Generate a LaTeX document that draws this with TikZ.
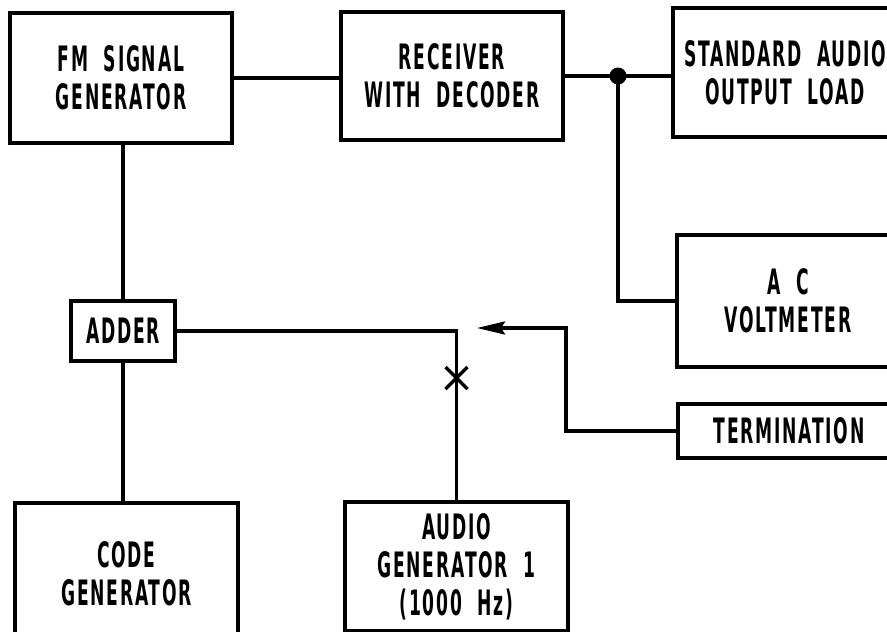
\documentclass[tikz,border=0pt]{standalone}
\usepackage{fontspec}
\newfontfamily\lab[FakeStretch=0.49,LetterSpace=5,WordSpace=2]{DejaVu Sans}
\usetikzlibrary{arrows.meta}
\begin{document}
\begin{tikzpicture}[x=1pt,y=-1pt,
  line width=3.4pt,
  blk/.style={draw, line width=3.4pt, align=center, inner sep=0pt,
    font=\lab\bfseries\fontsize{35}{38}\selectfont, text=black},
  wire/.style={line width=3.4pt},
  arr/.style={-{Stealth[length=28pt,width=13pt,inset=4pt]}},
]
\useasboundingbox (0,0) rectangle (887,632);
\clip (0,0) rectangle (887,632);
% boxes
\node[blk, minimum width=222pt, minimum height=130pt] (fm) at (121,78) {FM SIGNAL\\GENERATOR};
\node[blk, minimum width=222pt, minimum height=128pt] (rx) at (452,76) {RECEIVER\\WITH DECODER};
\node[blk, minimum width=224pt, minimum height=129pt] (sa) at (785,72.5) {STANDARD AUDIO\\OUTPUT LOAD};
\node[blk, minimum width=222pt, minimum height=132pt] (vm) at (788,301) {A C\\VOLTMETER};
\node[blk, minimum width=222pt, minimum height=54pt] (tm) at (789,431) {TERMINATION};
\node[blk, minimum width=104pt, minimum height=60pt] (ad) at (123,331) {ADDER};
\node[blk, minimum width=223pt, minimum height=142pt] (cg) at (126.5,574) {CODE\\GENERATOR};
\node[blk, minimum width=223pt, minimum height=129pt] (ag) at (456.5,566.5) {AUDIO\\GENERATOR 1\\(1000 Hz)};
% junctions
\coordinate (j) at (618,76);
\coordinate (bend) at (566,328);
\coordinate (tip) at (477,328);
\coordinate (xm) at (456.5,378);
% connectors
\draw[wire] (fm.east) -- (fm.east -| rx.west);
\draw[wire] (rx.east) -- (rx.east -| sa.west);
\fill (j) circle (8.5pt);
\draw[wire] (j) |- (vm.west);
\draw[wire] (fm.south -| ad.north) -- (ad.north);
\draw[wire] (ad.south) -- (ad.south |- cg.north);
\draw[wire] (ad.east) -| (ag.north);
\draw[wire] (xm) +(-11,-11) -- +(11,11) (xm) +(-11,11) -- +(11,-11);
\draw[wire,arr] (tm.west) -| (bend) -- (tip);
\end{tikzpicture}
\end{document}
